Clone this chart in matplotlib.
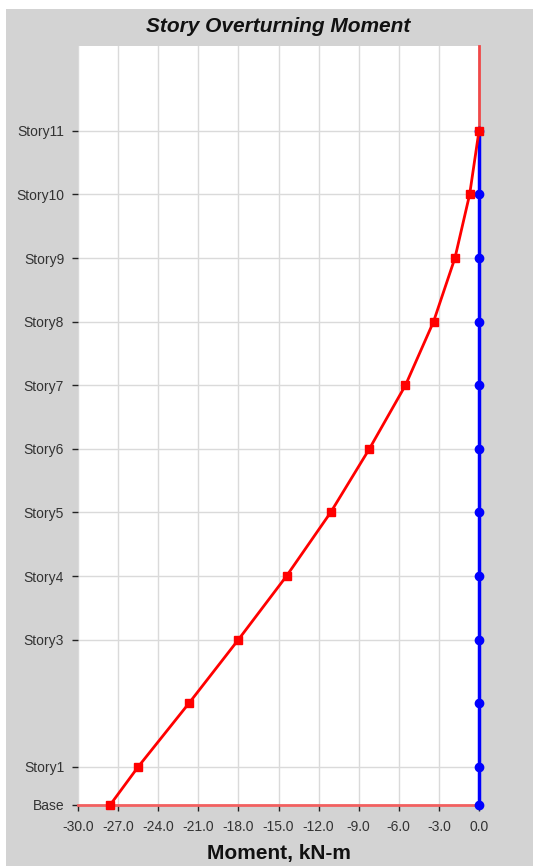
import matplotlib.pyplot as plt
from matplotlib.patches import Rectangle

stories = ["Base", "Story1", "Story2", "Story3", "Story4", "Story5", "Story6",
           "Story7", "Story8", "Story9", "Story10", "Story11"]
elev = [0.0, 1.8, 4.8, 7.8, 10.8, 13.8, 16.8, 19.8, 22.8, 25.8, 28.8, 31.8]
moment_red = [-27.6, -25.5, -21.7, -18.0, -14.4, -11.1, -8.2, -5.5, -3.4, -1.8, -0.7, 0.0]
moment_blue = [0.0] * 12
labelled = [s for s in stories if s != "Story2"]
labelled_elev = [e for s, e in zip(stories, elev) if s != "Story2"]
xticks = [-30, -27, -24, -21, -18, -15, -12, -9, -6, -3, 0]

plt.rcParams['font.family'] = ['Liberation Sans', 'DejaVu Sans']

fig = plt.figure(figsize=(5.33, 8.66), dpi=100)
fig.patch.set_facecolor("white")
fig.patches.append(Rectangle((6 / 533, 0), 1, 1 - 9 / 866, transform=fig.transFigure,
                             facecolor="#d3d3d3", edgecolor="none", zorder=-10))

ax = fig.add_axes([78 / 533, 1 - 805 / 866, 401 / 533, 759 / 866])
ax.set_facecolor("white")
for s in ax.spines.values():
    s.set_visible(False)

ax.set_xlim(-30, 0)
ax.set_ylim(0, 35.8)
ax.set_xticks(xticks)
ax.set_xticklabels(["%.1f" % v for v in xticks])
ax.set_yticks(labelled_elev)
ax.set_yticklabels(labelled)
ax.tick_params(axis="both", labelsize=10, colors="#222222", labelcolor="#333333",
               length=4, width=1)
ax.tick_params(axis="y", pad=6)
ax.tick_params(axis="x", pad=7)
ax.grid(True, color="#dadada", linewidth=1)
ax.set_axisbelow(True)

# reference lines
ax.axhline(0, color="#f26060", linewidth=2, zorder=2, clip_on=False)
ax.plot([0, 0], [elev[-1], 35.8], color="#f04848", linewidth=2, zorder=2, clip_on=False)

ax.plot(moment_blue, elev, color="blue", linewidth=2.5, marker="o", markersize=6,
        zorder=3, clip_on=False)
ax.plot(moment_red, elev, color="red", linewidth=2, marker="s", markersize=6,
        zorder=4, clip_on=False)

fig.text(278.5 / 533, 1 - 26 / 866, "Story Overturning Moment", ha="center", va="center",
         fontsize=15, fontweight="bold", fontstyle="italic", color="#111111")
fig.text(278.5 / 533, 1 - 853 / 866, "Moment, kN-m", ha="center", va="center",
         fontsize=15, fontweight="bold", color="#111111")

fig.savefig("out.png", dpi=100)
